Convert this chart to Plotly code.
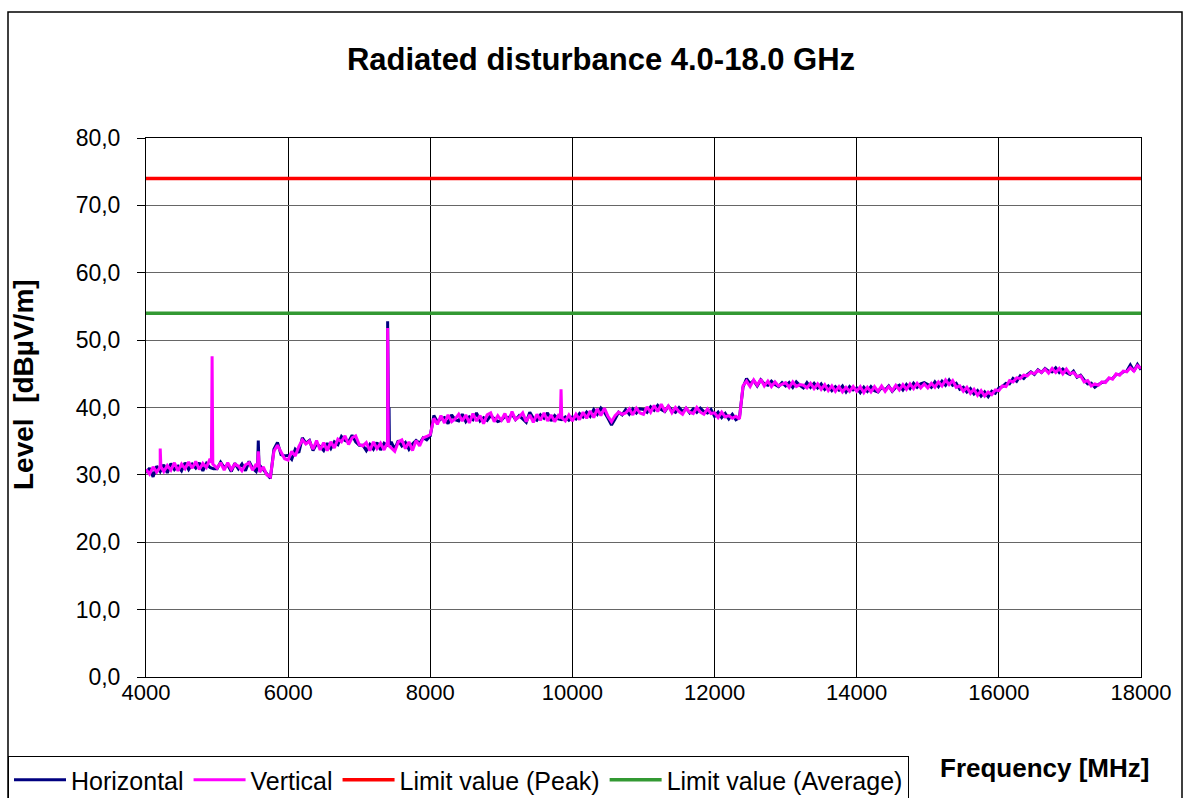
import plotly.graph_objects as go

# ---------------- data ----------------
f_start, f_stop, f_step = 4000, 18000, 50
freq_grid = list(range(f_start, f_stop + 1, f_step))

vertical = [
    # 4000-4950
    30.8, 30.1, 31.2, 30.4, 31.5, 30.5, 31.4, 30.7, 31.8, 30.6, 31.6, 30.9, 31.9, 31.0, 32.0, 30.8, 31.7, 31.1, 32.4, 31.5,
    # 5000-5950
    31.0, 31.8, 30.7, 31.8, 30.8, 31.6, 31.3, 30.6, 31.5, 31.8, 30.7, 31.6, 30.4, 31.2, 30.0, 29.7, 33.5, 34.4, 33.4, 32.4,
    # 6000-6950
    32.2, 33.5, 32.8, 34.2, 35.2, 34.6, 35.0, 33.8, 35.1, 33.7, 34.8, 33.6, 34.9, 34.0, 35.3, 34.9, 35.8, 34.5, 35.5, 35.8,
    # 7000-7950
    34.5, 34.3, 34.8, 33.6, 34.9, 33.9, 34.7, 33.7, 35.1, 34.0, 33.5, 34.9, 35.2, 33.9, 34.9, 33.6, 35.1, 34.3, 35.5, 35.7,
    # 8000-8950
    36.0, 38.4, 37.5, 38.8, 37.7, 38.9, 37.9, 38.3, 39.0, 38.0, 38.9, 37.7, 39.1, 38.0, 38.8, 37.6, 38.9, 39.2, 37.9, 38.8,
    # 9000-9950
    38.1, 39.1, 37.8, 39.4, 38.2, 38.6, 39.2, 37.9, 38.9, 37.8, 39.0, 38.1, 39.2, 38.0, 38.9, 37.9, 38.8, 38.4, 38.0, 38.9,
    # 10000-10950
    38.0, 39.0, 38.2, 39.3, 38.4, 39.5, 38.5, 39.8, 38.8, 39.9, 38.7, 37.9, 38.8, 39.3, 39.0, 39.2, 39.8, 38.9, 39.9, 39.2,
    # 11000-11950
    39.0, 40.1, 39.3, 40.3, 39.4, 40.5, 39.5, 40.2, 39.2, 40.0, 39.4, 39.0, 39.9, 39.3, 39.1, 40.0, 39.3, 39.0, 39.8, 39.1,
    # 12000-12950
    39.2, 38.5, 39.3, 38.6, 38.8, 38.4, 38.7, 38.3, 43.2, 43.9, 43.1, 44.1, 43.3, 44.2, 43.2, 43.9, 43.1, 43.8, 43.2, 43.5,
    # 13000-13950
    43.7, 43.0, 43.8, 43.1, 43.4, 43.3, 42.9, 43.6, 42.8, 43.5, 42.7, 43.4, 42.5, 43.2, 42.4, 43.1, 42.3, 43.0, 42.4, 43.1,
    # 14000-14950
    42.4, 43.1, 42.2, 43.0, 42.3, 43.1, 42.4, 43.2, 42.4, 43.1, 42.5, 43.3, 42.6, 43.4, 42.7, 43.5, 42.8, 43.6, 42.9, 43.5,
    # 15000-15950
    42.9, 43.6, 43.0, 43.8, 43.2, 44.1, 43.4, 44.0, 43.0, 43.2, 42.4, 43.0, 42.1, 42.7, 41.8, 42.5, 41.7, 42.3, 41.9, 42.6,
    # 16000-16950
    42.5, 43.2, 43.1, 44.0, 43.8, 44.4, 44.3, 44.8, 44.7, 45.2, 45.0, 45.5, 45.2, 45.7, 45.1, 45.8, 45.2, 45.8, 45.0, 45.7,
    # 17000-18000
    45.0, 45.2, 44.6, 44.7, 43.8, 44.0, 43.2, 43.5, 43.3, 43.8, 43.7, 44.4, 44.2, 45.0, 44.8, 45.4, 45.3, 45.9, 45.4, 46.2, 45.8,
]

horizontal = [
    # 4000-4950
    30.3, 31.0, 29.7, 31.3, 30.5, 31.5, 30.3, 31.7, 30.8, 31.3, 30.6, 31.8, 30.8, 31.6, 31.0, 31.8, 30.6, 31.7, 31.1, 30.9,
    # 5000-5950
    30.9, 31.9, 31.1, 31.5, 30.5, 31.7, 30.9, 31.6, 30.6, 32.0, 31.0, 30.5, 31.4, 30.8, 30.2, 29.5, 33.8, 34.8, 33.0, 32.8,
    # 6000-6950
    32.9, 32.3, 33.8, 33.3, 35.5, 34.7, 35.1, 33.6, 34.6, 34.2, 33.6, 34.7, 33.9, 34.9, 34.5, 35.7, 35.1, 34.9, 35.9, 34.9,
    # 7000-7950
    34.4, 34.4, 33.6, 34.5, 33.8, 34.8, 33.7, 34.7, 34.2, 34.9, 33.8, 35.1, 34.3, 34.8, 33.8, 34.6, 35.1, 34.7, 35.5, 35.2,
    # 8000-8950
    35.8, 38.8, 37.9, 38.3, 38.5, 37.6, 38.9, 38.2, 38.0, 39.0, 37.9, 38.6, 38.2, 39.2, 38.0, 38.5, 38.1, 38.8, 38.4, 37.9,
    # 9000-9950
    38.1, 38.7, 38.4, 39.0, 38.2, 38.8, 38.3, 37.8, 39.3, 38.4, 38.1, 38.9, 38.4, 39.2, 38.0, 38.8, 38.3, 38.2, 38.6, 38.1,
    # 10000-10950
    38.6, 38.3, 39.1, 38.6, 39.3, 38.7, 39.7, 39.0, 39.9, 39.3, 38.4, 37.4, 38.3, 39.3, 38.9, 39.7, 39.0, 39.8, 39.2, 39.8,
    # 11000-11950
    39.7, 39.3, 40.1, 39.6, 40.3, 39.7, 39.4, 40.2, 39.6, 39.3, 40.0, 39.4, 39.9, 39.2, 39.8, 39.3, 39.9, 39.4, 39.2, 39.7,
    # 12000-12950
    38.7, 39.3, 38.5, 39.1, 38.3, 39.0, 38.2, 38.5, 43.0, 44.3, 43.5, 44.0, 43.2, 44.1, 43.5, 43.3, 43.9, 43.4, 43.1, 43.7,
    # 13000-13950
    43.2, 43.7, 43.0, 43.8, 43.3, 42.9, 43.7, 43.0, 43.6, 42.9, 43.5, 42.7, 43.2, 42.5, 43.1, 42.6, 43.2, 42.3, 43.1, 42.6,
    # 14000-14950
    42.9, 42.2, 43.0, 42.4, 43.1, 42.5, 42.3, 43.0, 42.6, 43.2, 42.4, 43.0, 43.3, 42.6, 43.4, 42.8, 43.6, 43.0, 43.5, 43.7,
    # 15000-15950
    43.4, 43.0, 43.8, 43.1, 43.9, 43.3, 44.1, 43.3, 43.6, 42.7, 43.0, 42.3, 42.8, 42.0, 42.5, 41.7, 42.3, 41.6, 42.4, 42.1,
    # 16000-16950
    42.9, 43.1, 43.6, 43.5, 44.3, 43.9, 44.7, 44.3, 44.9, 45.3, 44.9, 45.6, 45.2, 45.8, 45.4, 45.3, 45.9, 45.2, 45.7, 45.2,
    # 17000-18000
    44.9, 45.4, 44.5, 44.8, 44.1, 43.5, 43.6, 43.0, 43.4, 43.7, 43.8, 44.3, 44.3, 44.9, 44.9, 45.3, 45.4, 46.3, 45.4, 46.4, 45.6,
]

# narrow spikes (shoulder, peak, shoulder)
spike_v_freq = [4190, 4200, 4210, 4920, 4930, 4940, 5570, 5580, 5590, 7390, 7400, 7410, 9830, 9840, 9850]
spike_v_level = [31.0, 33.9, 31.2, 31.8, 47.6, 31.6, 31.2, 33.5, 31.0, 34.6, 51.8, 34.4, 38.4, 42.7, 38.5]
spike_h_freq = [5570, 5580, 5590, 7390, 7400, 7410, 7415, 7420, 7425]
spike_h_level = [31.2, 35.1, 31.3, 34.4, 52.8, 34.6, 34.5, 40.0, 34.5]

limit_freq = [4000, 18000]
limit_peak = [74.0, 74.0]
limit_avg = [54.0, 54.0]

y_ticks = [0, 10, 20, 30, 40, 50, 60, 70, 80]
x_ticks = [4000, 6000, 8000, 10000, 12000, 14000, 16000, 18000]


def merge(fa, la, fb, lb):
    pts = sorted(zip(list(fa) + list(fb), list(la) + list(lb)), key=lambda p: p[0])
    return [p[0] for p in pts], [p[1] for p in pts]


fv, lv = merge(freq_grid, vertical, spike_v_freq, spike_v_level)
fh, lh = merge(freq_grid, horizontal, spike_h_freq, spike_h_level)

FONT = "Arial, Liberation Sans, sans-serif"

fig = go.Figure()
fig.add_trace(go.Scatter(x=fh, y=lh, mode="lines", name="Horizontal",
                         line=dict(color="#000080", width=3)))
fig.add_trace(go.Scatter(x=fv, y=lv, mode="lines", name="Vertical",
                         line=dict(color="#FF00FF", width=3)))
fig.add_trace(go.Scatter(x=limit_freq, y=limit_peak, mode="lines", name="Limit value (Peak)",
                         line=dict(color="#FF0000", width=3.5)))
fig.add_trace(go.Scatter(x=limit_freq, y=limit_avg, mode="lines", name="Limit value (Average)",
                         line=dict(color="#339933", width=3.5)))

L, R, T, B = 146, 43, 138, 121
W, H = 1184, 798
pw, ph = W - L - R, H - T - B


def px_x(p):
    return (p - L) / pw


def px_y(p):
    return (H - B - p) / ph


fig.update_layout(
    width=W, height=H,
    margin=dict(l=L, r=R, t=T, b=B, pad=0, autoexpand=False),
    paper_bgcolor="white", plot_bgcolor="white",
    separators=", ",
    font=dict(family=FONT, size=22, color="black"),
    title=dict(text="<b>Radiated disturbance 4.0-18.0 GHz</b>", x=601 / W, xanchor="center",
               y=1 - 59 / H, yanchor="middle", font=dict(family=FONT, size=31, color="black")),
    showlegend=True,
    legend=dict(orientation="h", x=px_x(8), y=px_y(756), xanchor="left", yanchor="top",
                bgcolor="white", bordercolor="black", borderwidth=1,
                font=dict(family=FONT, size=25, color="black"),
                itemwidth=52, tracegroupgap=0),
    xaxis=dict(range=[4000, 18000], tickvals=x_ticks, tickformat="d",
               showgrid=True, gridcolor="black", gridwidth=1,
               showline=True, linecolor="black", linewidth=1, mirror=True,
               ticks="", ticklen=0, ticklabelstandoff=-4,
               tickfont=dict(family=FONT, size=22), zeroline=False),
    yaxis=dict(range=[0, 80], tickvals=y_ticks, tickformat=".1f",
               showgrid=True, gridcolor="#666666", gridwidth=1,
               showline=True, linecolor="black", linewidth=1, mirror=True,
               ticks="outside", ticklen=8, tickcolor="black", ticklabelstandoff=12,
               tickfont=dict(family=FONT, size=23), zeroline=False),
    annotations=[
        dict(text="<b>Frequency [MHz]</b>", xref="paper", yref="paper",
             x=px_x(1044), y=px_y(768), xanchor="center", yanchor="middle",
             showarrow=False, font=dict(family=FONT, size=26, color="black")),
        dict(text="<b>Level  [dBµV/m]</b>", xref="paper", yref="paper", textangle=-90,
             x=px_x(23), y=px_y(385), xanchor="center", yanchor="middle",
             showarrow=False, font=dict(family=FONT, size=28, color="black")),
    ],
    shapes=[dict(type="rect", xref="paper", yref="paper",
                 x0=px_x(8), x1=px_x(1182), y0=px_y(805), y1=px_y(12),
                 line=dict(color="black", width=1.5), fillcolor="rgba(0,0,0,0)", layer="below")],
)

fig.write_html("out.html", config={"displayModeBar": False},
               post_script="document.body.style.margin='0';document.body.style.overflow='hidden';")
